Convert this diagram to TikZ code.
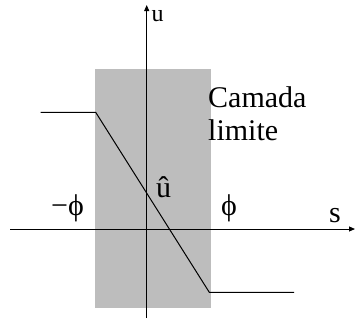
\documentclass[tikz,border=0pt]{standalone}
\usepackage{fontspec}
\setmainfont{Liberation Serif}
\usetikzlibrary{arrows.meta}
\begin{document}
\begin{tikzpicture}[x=1pt,y=-1pt,
  lbl/.style={inner sep=0pt,anchor=base west,font=\fontsize{30}{32}\selectfont},
  axis/.style={line width=1pt,-{Triangle[length=6pt,width=5pt]}},
  curve/.style={line width=1pt}]
\useasboundingbox (0,0) rectangle (355,324);
\fill[gray!52] (95,69) rectangle (210.5,308);
\coordinate (xa) at (10,229);
\coordinate (xb) at (355,229);
\coordinate (ya) at (146.7,318);
\coordinate (yb) at (146.7,5);
\draw[axis] (xa) -- (xb);
\draw[axis] (ya) -- (yb);
\coordinate (p0) at (40.5,112.3);
\coordinate (p1) at (95.7,112.3);
\coordinate (p2) at (209.3,292.3);
\coordinate (p3) at (294,292.3);
\draw[curve] (p0) -- (p1) -- (p2) -- (p3);
\node[lbl,font=\fontsize{24}{26}\selectfont] (u) at (151.5,21) {u};
\node[lbl] (cam) at (208,107) {Camada};
\node[lbl] (lim) at (208,140) {limite};
\node[lbl] (uh) at (156,197) {û};
\node[lbl] (mphi) at (51,215) {−ϕ};
\node[lbl] (phi) at (221,215) {ϕ};
\node[lbl] (s) at (329,222) {s};
\end{tikzpicture}
\end{document}
